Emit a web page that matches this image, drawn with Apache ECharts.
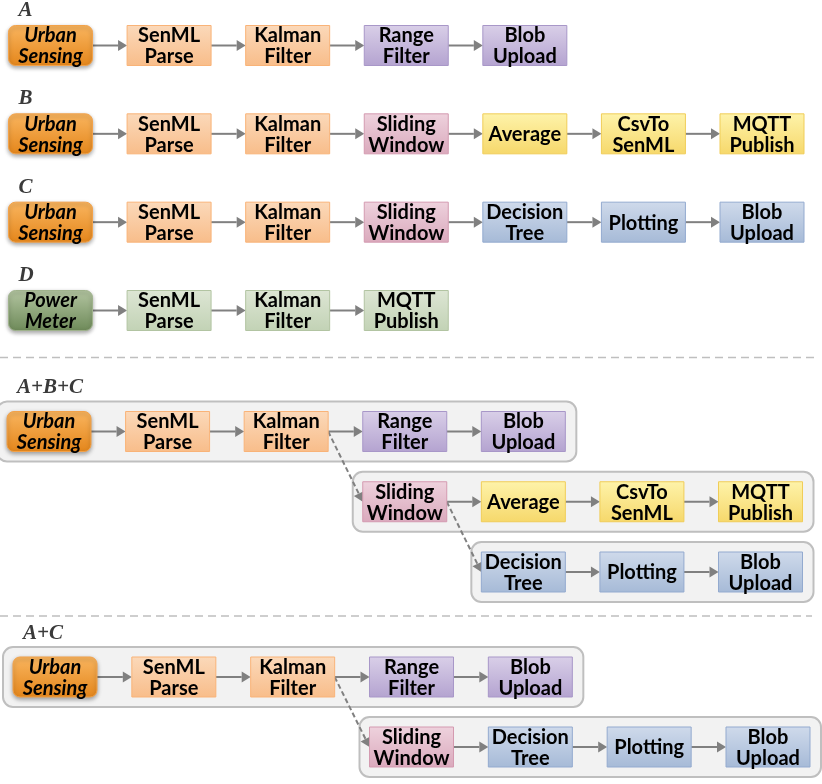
<!DOCTYPE html>
<html>
<head>
<meta charset="utf-8">
<script src="https://cdn.jsdelivr.net/npm/echarts@6/dist/echarts.min.js"></script>
<style>
  body { margin: 0; background: #fff; }
  #main { width: 822px; height: 784px; }
</style>
</head>
<body>
<div id="main"></div>
<script>
// pipelines: task names per row
var tagsTop = ['A', 'B', 'C', 'D'];
var tasksA = ['Urban\nSensing', 'SenML\nParse', 'Kalman\nFilter', 'Range\nFilter', 'Blob\nUpload'];
var tasksB = ['Urban\nSensing', 'SenML\nParse', 'Kalman\nFilter', 'Sliding\nWindow', 'Average', 'CsvTo\nSenML', 'MQTT\nPublish'];
var tasksC = ['Urban\nSensing', 'SenML\nParse', 'Kalman\nFilter', 'Sliding\nWindow', 'Decision\nTree', 'Plotting', 'Blob\nUpload'];
var tasksD = ['Power\nMeter', 'SenML\nParse', 'Kalman\nFilter', 'MQTT\nPublish'];
// colour group of every task
var kindA = ['src', 'etl', 'etl', 'a', 'a'];
var kindB = ['src', 'etl', 'etl', 'win', 'b', 'b', 'b'];
var kindC = ['src', 'etl', 'etl', 'win', 'c', 'c', 'c'];
var kindD = ['srcD', 'd', 'd', 'd'];

// merged dataflows: [first column, tasks, kinds]
var abcRows = [[0, tasksA, kindA], [3, tasksB.slice(3), kindB.slice(3)], [4, tasksC.slice(4), kindC.slice(4)]];
var abcLinks = [[2, 0, 3, 1], [3, 1, 4, 2]]; // col,row -> col,row (dashed)
var acRows = [[0, tasksA, kindA], [3, tasksC.slice(3), kindC.slice(3)]];
var acLinks = [[2, 0, 3, 1]];
var topRows = [[0, tasksA, kindA], [0, tasksB, kindB], [0, tasksC, kindC], [0, tasksD, kindD]];

var kindStyle = {
  src:  { c: ['#F9B55F', '#E4861B'], s: '#F2A24A', italic: true, shadow: true },
  srcD: { c: ['#B3C5A1', '#6E8A59'], s: '#9FB28C', italic: true, shadow: true },
  etl:  { c: ['#FBD9BA', '#F8BD8A'], s: '#F9B378' },
  a:    { c: ['#D9CFE8', '#B4A3D0'], s: '#A897C8' },
  win:  { c: ['#EED2DD', '#DAA9BC'], s: '#D49AB0' },
  b:    { c: ['#FEF3AA', '#F6D86B'], s: '#F0CD58' },
  c:    { c: ['#CFDAEB', '#A6BAD7'], s: '#93AACF' },
  d:    { c: ['#DDE6D4', '#C2D2B5'], s: '#B2C4A2' }
};

var HALF_W = 42, HALF_H = 20;
var FONT = 'Lato, "Open Sans", sans-serif';

function arrow(p1, p2, dashed) {
  var dx = p2[0] - p1[0], dy = p2[1] - p1[1];
  var len = Math.sqrt(dx * dx + dy * dy);
  var ux = dx / len, uy = dy / len, hl = 9, hw = 5.5;
  var bx = p2[0] - ux * hl, by = p2[1] - uy * hl;
  return [
    { type: 'line', shape: { x1: p1[0], y1: p1[1], x2: bx, y2: by },
      style: { stroke: '#808080', lineWidth: 2, lineDash: dashed ? [5, 3] : null } },
    { type: 'polygon', shape: { points: [[p2[0], p2[1]], [bx - uy * hw, by + ux * hw], [bx + uy * hw, by - ux * hw]] },
      style: { fill: '#808080' } }
  ];
}

function section(gi, rows, links, tags, tagDy, boxed) {
  var nodes = [], edges = [], boxes = [];
  rows.forEach(function (r, ri) {
    var start = r[0], names = r[1], kinds = r[2];
    names.forEach(function (n, i) {
      nodes.push({ value: [start + i, ri], label: n, kind: kinds[i] });
      if (i > 0) edges.push([start + i - 1, ri, start + i, ri, 0]);
    });
    boxes.push([start, start + names.length - 1, ri]);
  });
  links.forEach(function (l) { edges.push([l[0], l[1], l[2], l[3], 1]); });

  var list = [];
  if (boxed) {
    list.push({
      type: 'custom', xAxisIndex: gi, yAxisIndex: gi, z: 1,
      encode: { x: [0, 1], y: 2 },
      data: boxes,
      renderItem: function (params, api) {
        var a = api.coord([api.value(0), api.value(2)]);
        var b = api.coord([api.value(1), api.value(2)]);
        return { type: 'rect',
          shape: { x: a[0] - HALF_W - 10, y: a[1] - 30, width: b[0] - a[0] + 2 * HALF_W + 21, height: 60, r: 10 },
          style: { fill: '#F2F2F2', stroke: '#BFBFBF', lineWidth: 2 } };
      }
    });
  }
  list.push({
    type: 'custom', xAxisIndex: gi, yAxisIndex: gi, z: 2,
    encode: { x: [0, 2], y: [1, 3] },
    data: edges,
    renderItem: function (params, api) {
      var p1 = api.coord([api.value(0), api.value(1)]);
      var p2 = api.coord([api.value(2), api.value(3)]);
      return { type: 'group', children: arrow([p1[0] + HALF_W, p1[1]], [p2[0] - HALF_W, p2[1]], api.value(4) === 1) };
    }
  });
  list.push({
    type: 'custom', xAxisIndex: gi, yAxisIndex: gi, z: 3,
    encode: { x: 0, y: 1 },
    data: nodes.map(function (n) { return n.value; }),
    renderItem: function (params, api) {
      var n = nodes[params.dataIndex], st = kindStyle[n.kind];
      var p = api.coord([api.value(0), api.value(1)]);
      var src = n.kind === 'src' || n.kind === 'srcD';
      return { type: 'group', children: [
        { type: 'rect',
          shape: { x: p[0] - HALF_W, y: p[1] - HALF_H, width: 2 * HALF_W, height: 2 * HALF_H, r: src ? 7 : 0 },
          style: {
            fill: new echarts.graphic.LinearGradient(0, 0, 0, 1, [{ offset: 0, color: st.c[0] }, { offset: 1, color: st.c[1] }]),
            stroke: st.s, lineWidth: 1,
            shadowBlur: st.shadow ? 4 : 0, shadowColor: 'rgba(0,0,0,0.35)', shadowOffsetY: st.shadow ? 2 : 0
          } },
        { type: 'text', x: p[0], y: p[1] + 1,
          style: { text: n.label, fill: '#000', align: 'center', verticalAlign: 'middle',
            fontFamily: FONT, fontWeight: 'bold', fontStyle: st.italic ? 'italic' : 'normal',
            fontSize: 20, lineHeight: 21 } }
      ] };
    }
  });
  list.push({
    type: 'custom', xAxisIndex: gi, yAxisIndex: gi, z: 3,
    encode: { x: 0, y: 1 },
    data: tags.map(function (t, i) { return [0, i]; }),
    renderItem: function (params, api) {
      var p = api.coord([api.value(0), api.value(1)]);
      return { type: 'text', x: p[0] - 32, y: p[1] + tagDy,
        style: { text: tags[params.dataIndex], fill: '#3A3A3A', align: 'left', verticalAlign: 'middle',
          fontFamily: '"Liberation Serif", serif', fontWeight: 'bold', fontStyle: 'italic', fontSize: 21 } };
    }
  });
  return list;
}

var grids = [
  { left: 50.5, top: 45.5, width: 711.5, height: 265 },
  { left: 49, top: 431.5, width: 711.5, height: 140.5 },
  { left: 55, top: 677, width: 713, height: 70 }
];
var rowCounts = [4, 3, 2];

var chart = echarts.init(document.getElementById('main'));
chart.setOption({
  animation: false,
  grid: grids,
  xAxis: grids.map(function (g, i) {
    return { type: 'value', gridIndex: i, min: 0, max: 6, show: false };
  }),
  yAxis: grids.map(function (g, i) {
    return { type: 'value', gridIndex: i, min: 0, max: rowCounts[i] - 1, inverse: true, show: false };
  }),
  graphic: [
    { type: 'line', shape: { x1: 0, y1: 357.5, x2: 815, y2: 357.5 }, style: { stroke: '#BFBFBF', lineWidth: 1.5, lineDash: [8, 5] } },
    { type: 'line', shape: { x1: 0, y1: 616, x2: 812, y2: 616 }, style: { stroke: '#BFBFBF', lineWidth: 1.5, lineDash: [8, 5] } }
  ],
  series: [].concat(
    section(0, topRows, [], tagsTop, -35, false),
    section(1, abcRows, abcLinks, ['A+B+C'], -43.5, true),
    section(2, acRows, acLinks, ['A+C'], -43, true)
  )
});
</script>
</body>
</html>
